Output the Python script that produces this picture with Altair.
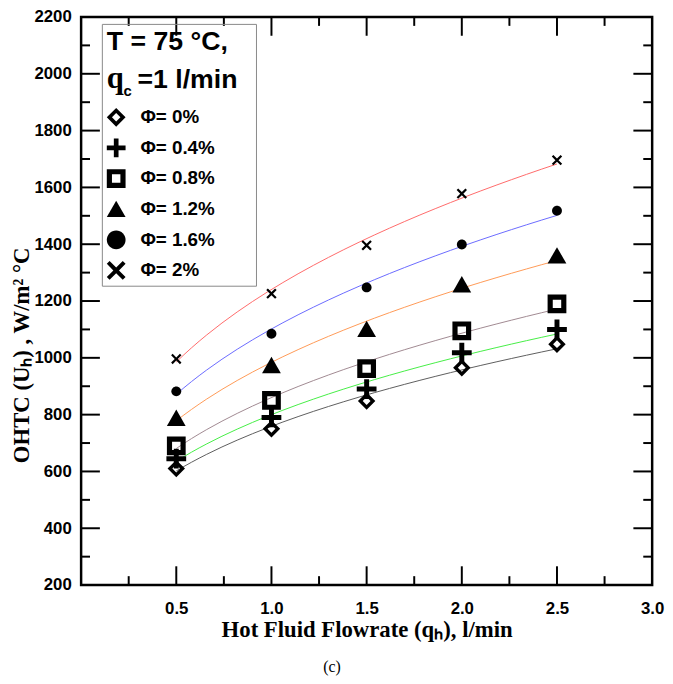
import altair as alt
import pandas as pd

# ---------------- data ----------------
qh = [0.5, 1.0, 1.5, 2.0, 2.5]
u_phi_0 = [610, 750, 848, 965, 1048]
u_phi_04 = [645, 790, 890, 1018, 1100]
u_phi_08 = [690, 850, 962, 1095, 1190]
u_phi_12 = [788, 974, 1101, 1258, 1360]
u_phi_16 = [882, 1085, 1248, 1399, 1518]
u_phi_20 = [996, 1226, 1396, 1578, 1696]

series_names = ["Φ= 0%", "Φ= 0.4%", "Φ= 0.8%", "Φ= 1.2%", "Φ= 1.6%", "Φ= 2%"]
series_keys = ["k0", "k1", "k2", "k3", "k4", "k5"]
series_values = [u_phi_0, u_phi_04, u_phi_08, u_phi_12, u_phi_16, u_phi_20]

x_tick_labels = [0.5, 1.0, 1.5, 2.0, 2.5, 3.0]
y_tick_labels = [200, 400, 600, 800, 1000, 1200, 1400, 1600, 1800, 2000, 2200]
x_major_ticks = [0.5, 1.0, 1.5, 2.0, 2.5]
x_minor_ticks = [0.25, 0.75, 1.25, 1.75, 2.25, 2.75]
y_major_ticks = [400, 600, 800, 1000, 1200, 1400, 1600, 1800, 2000]
y_minor_ticks = [300, 500, 700, 900, 1100, 1300, 1500, 1700, 1900, 2100]

# ---------------- styles ----------------
line_colors = ["#5c5c5c", "#44ee44", "#a08890", "#ff9955", "#6a6aff", "#ff6a6a"]
shape_paths = [
    "M0,-1L1,0L0,1L-1,0Z M0,-0.45L-0.45,0L0,0.45L0.45,0Z",
    "M-0.25,-1H0.25V-0.25H1V0.25H0.25V1H-0.25V0.25H-1V-0.25H-0.25Z",
    "M-1,-1H1V1H-1Z M-0.45,-0.45V0.45H0.45V-0.45Z",
    "M0,-0.9L1,0.85L-1,0.85Z",
    "M1,0A1,1,0,1,1,-1,0A1,1,0,1,1,1,0Z",
    "M0,-0.3L0.7,-1L1,-0.7L0.3,0L1,0.7L0.7,1L0,0.3L-0.7,1L-1,0.7L-0.3,0L-1,-0.7L-0.7,-1Z",
]
point_sizes = [310, 400, 361, 361, 100, 110]

rows = []
for name, key, vals in zip(series_names, series_keys, series_values):
    for q, u in zip(qh, vals):
        rows.append({"series": name, "key": key, "qh": q, "U": u})
df = pd.DataFrame(rows)

W, H = 578, 575
xscale = alt.Scale(domain=[0, 3], nice=False, zero=False)
yscale = alt.Scale(domain=[200, 2200], nice=False, zero=False)

X_TITLE = "Hot Fluid Flowrate (qₕ), l/min"
Y_TITLE = "OHTC  (Uₕ) , W/m² °C"

x_axis = alt.Axis(
    values=x_tick_labels, format=".1f", labelFlush=False, labelPadding=16,
    ticks=False, domain=False, grid=False,
    title=X_TITLE, titleFont="Liberation Serif",
    titleFontSize=23, titleFontWeight="bold", titleColor="black",
    titleY=45, titleBaseline="middle",
)
y_axis = alt.Axis(
    values=y_tick_labels, format="d", labelFlush=False, labelPadding=10,
    ticks=False, domain=False, grid=False,
    title=Y_TITLE, titleFont="Liberation Serif",
    titleFontSize=23, titleFontWeight="bold", titleColor="black",
    titleX=-60, titleY=342, titleAlign="center", titleBaseline="middle", titleAngle=270,
)

legend = alt.Legend(
    title=["T = 75 °C,\u2002\u2004\u200b", "\u00a0"], orient="none", legendX=21, legendY=7,
    padding=5, strokeColor="#888888", titleColor="black",
    titleFont="Liberation Sans", titleFontSize=27, titleFontWeight="bold",
    titleLineHeight=36, titlePadding=17,
    labelFont="Liberation Sans", labelFontSize=19, labelFontWeight="bold", labelColor="black",
    labelOffset=15, rowPadding=11, symbolSize=361, symbolStrokeWidth=0,
    symbolFillColor="black", symbolOpacity=1,
)

base = alt.Chart(df)

lines = base.transform_regression(
    "qh", "U", groupby=["key"], method="pow", extent=[0.5, 2.5]
).mark_line(strokeWidth=1).encode(
    x=alt.X("qh:Q", scale=xscale, axis=x_axis),
    y=alt.Y("U:Q", scale=yscale, axis=y_axis),
    stroke=alt.Stroke("key:N", scale=alt.Scale(domain=series_keys, range=line_colors), legend=None),
    detail="key:N",
)

points = base.mark_point(filled=True, color="black", opacity=1, strokeWidth=0).encode(
    x=alt.X("qh:Q", scale=xscale, axis=x_axis),
    y=alt.Y("U:Q", scale=yscale, axis=y_axis),
    shape=alt.Shape("series:N", scale=alt.Scale(domain=series_names, range=shape_paths), legend=legend),
    size=alt.Size("key:N", scale=alt.Scale(type="ordinal", domain=series_keys, range=point_sizes), legend=None),
)


def yticks(vals, x0, x1):
    return alt.Chart(pd.DataFrame({"U": vals})).mark_rule(color="black", strokeWidth=2).encode(
        y=alt.Y("U:Q", scale=yscale, axis=y_axis), x=alt.value(x0), x2=alt.value(x1)
    )


def xticks(vals, y0, y1):
    return alt.Chart(pd.DataFrame({"qh": vals})).mark_rule(color="black", strokeWidth=2).encode(
        x=alt.X("qh:Q", scale=xscale, axis=x_axis), y=alt.value(y0), y2=alt.value(y1)
    )


ticks = [
    yticks(y_major_ticks, 0, 19), yticks(y_minor_ticks, 0, 9),
    yticks(y_major_ticks, W - 19, W), yticks(y_minor_ticks, W - 9, W),
    xticks(x_major_ticks, H, H - 19), xticks(x_minor_ticks, H, H - 9),
    xticks(x_major_ticks, 0, 19), xticks(x_minor_ticks, 0, 9),
]

hdr_q = alt.Chart(pd.DataFrame({"t": ["q"]})).mark_text(
    font="Liberation Serif", fontSize=31, fontWeight="bold", align="left", baseline="alphabetic", color="black"
).encode(x=alt.value(26), y=alt.value(72), text="t:N")
hdr_c = alt.Chart(pd.DataFrame({"t": ["c"]})).mark_text(
    font="Liberation Sans", fontSize=15, fontWeight="bold", align="left", baseline="alphabetic", color="black"
).encode(x=alt.value(43), y=alt.value(80), text="t:N")
hdr_rest = alt.Chart(pd.DataFrame({"t": ["=1 l/min"]})).mark_text(
    font="Liberation Sans", fontSize=27, fontWeight="bold", align="left", baseline="alphabetic", color="black"
).encode(x=alt.value(57), y=alt.value(72), text="t:N")

chart = alt.layer(lines, points, *ticks, hdr_q, hdr_c, hdr_rest).properties(
    width=W, height=H,
    autosize=alt.AutoSizeParams(type="none"),
    padding={"left": 74, "top": 5, "right": 13, "bottom": 92},
    title=alt.TitleParams(
        text="(c)", orient="bottom", anchor="middle", font="Liberation Serif",
        fontSize=16, fontWeight="normal", color="black", offset=18, dx=-35,
    ),
).configure_view(stroke="black", strokeWidth=2.5).configure_axis(
    labelFont="Liberation Sans", labelFontSize=17, labelFontWeight="bold", labelColor="black",
)

chart.save("out.html", embed_options={"renderer": "svg", "actions": False})
